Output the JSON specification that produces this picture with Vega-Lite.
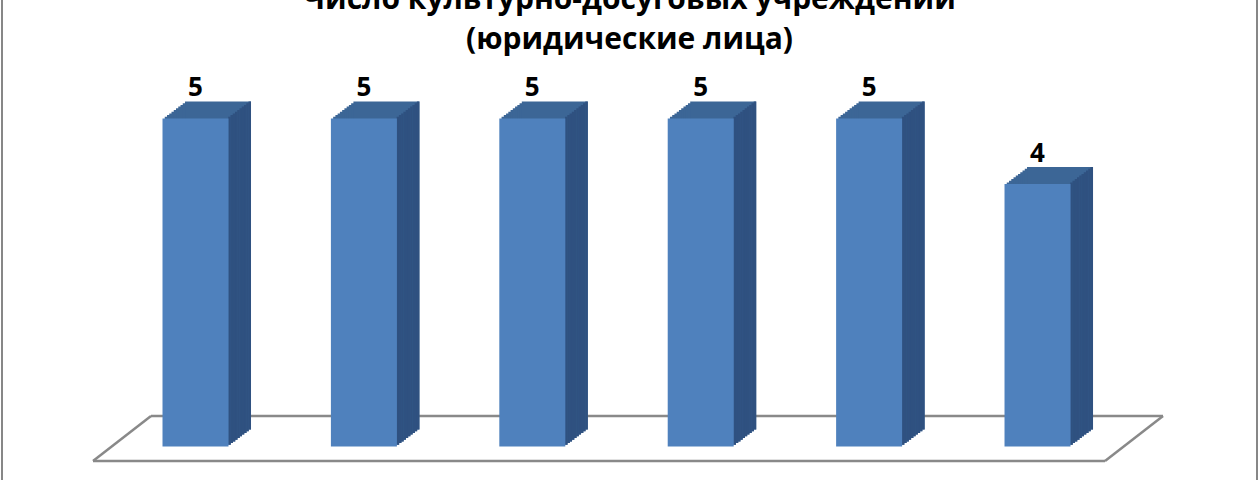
{
  "$schema": "https://vega.github.io/schema/vega-lite/v6.json",
  "autosize": {"type": "none"},
  "padding": {"left": 2, "top": -3, "right": 3, "bottom": 0},
  "width": 1255,
  "height": 490,
  "background": "white",
  "config": {
    "view": {"stroke": "#878787", "strokeWidth": 2},
    "font": "Open Sans"
  },
  "title": {
    "text": ["Число культурно-досуговых учреждений", "(юридические лица)"],
    "font": "Open Sans",
    "fontSize": 30,
    "fontWeight": "bold",
    "color": "#000000",
    "lineHeight": 40,
    "anchor": "middle",
    "offset": -58
  },
  "data": {
    "values": [
      {"year": "2014", "count": 5},
      {"year": "2015", "count": 5},
      {"year": "2016", "count": 5},
      {"year": "2017", "count": 5},
      {"year": "2018", "count": 5},
      {"year": "2019", "count": 4}
    ]
  },
  "encoding": {
    "x": {
      "field": "year",
      "type": "nominal",
      "axis": null,
      "scale": {"paddingInner": 0, "paddingOuter": 0.7262, "align": 0.4469}
    },
    "y": {
      "field": "count",
      "type": "quantitative",
      "axis": null,
      "scale": {"domain": [-0.6174, 6.8521], "nice": false}
    }
  },
  "layer": [
    {
      "transform": [{"filter": "datum.year === '2014'"}],
      "mark": {"type": "rule", "color": "#898989", "strokeWidth": 2.5, "xOffset": -102.5, "x2Offset": 67.5, "yOffset": 14.5, "y2Offset": 14.5},
      "encoding": {"x2": {"datum": "2019", "type": "nominal"}, "y": {"datum": 0, "type": "quantitative"}, "y2": {"datum": 0}}
    },
    {
      "transform": [{"filter": "datum.year === '2014'"}],
      "mark": {"type": "rule", "color": "#898989", "strokeWidth": 2.5, "xOffset": -44.5, "x2Offset": 125.5, "yOffset": -30.5, "y2Offset": -30.5},
      "encoding": {"x2": {"datum": "2019", "type": "nominal"}, "y": {"datum": 0, "type": "quantitative"}, "y2": {"datum": 0}}
    },
    {
      "transform": [{"filter": "datum.year === '2014'"}],
      "mark": {"type": "rule", "color": "#898989", "strokeWidth": 2.5, "xOffset": -102.5, "x2Offset": -44.5, "yOffset": 14.5, "y2Offset": -30.5},
      "encoding": {"x2": {"field": "year"}, "y": {"datum": 0, "type": "quantitative"}, "y2": {"datum": 0}}
    },
    {
      "transform": [{"filter": "datum.year === '2019'"}],
      "mark": {"type": "rule", "color": "#898989", "strokeWidth": 2.5, "xOffset": 67.5, "x2Offset": 125.5, "yOffset": 14.5, "y2Offset": -30.5},
      "encoding": {"x2": {"field": "year"}, "y": {"datum": 0, "type": "quantitative"}, "y2": {"datum": 0}}
    },
    {"mark": {"type": "bar", "width": 66, "color": "#3c6696", "xOffset": 2.25, "yOffset": -1.7, "y2Offset": -1.7}},
    {"mark": {"type": "bar", "width": 66, "color": "#3c6696", "xOffset": 4.5, "yOffset": -3.4, "y2Offset": -3.4}},
    {"mark": {"type": "bar", "width": 66, "color": "#3c6696", "xOffset": 6.75, "yOffset": -5.1, "y2Offset": -5.1}},
    {"mark": {"type": "bar", "width": 66, "color": "#3c6696", "xOffset": 9, "yOffset": -6.8, "y2Offset": -6.8}},
    {"mark": {"type": "bar", "width": 66, "color": "#3c6696", "xOffset": 11.25, "yOffset": -8.5, "y2Offset": -8.5}},
    {"mark": {"type": "bar", "width": 66, "color": "#3c6696", "xOffset": 13.5, "yOffset": -10.2, "y2Offset": -10.2}},
    {"mark": {"type": "bar", "width": 66, "color": "#3c6696", "xOffset": 15.75, "yOffset": -11.9, "y2Offset": -11.9}},
    {"mark": {"type": "bar", "width": 66, "color": "#3c6696", "xOffset": 18, "yOffset": -13.6, "y2Offset": -13.6}},
    {"mark": {"type": "bar", "width": 66, "color": "#3c6696", "xOffset": 20.25, "yOffset": -15.3, "y2Offset": -15.3}},
    {"mark": {"type": "bar", "width": 66, "color": "#3c6696", "xOffset": 22.5, "yOffset": -17, "y2Offset": -17}},
    {"mark": {"type": "bar", "width": 2.5, "color": "#2f5180", "xOffset": 34, "yOffset": -1.7, "y2Offset": -1.7}},
    {"mark": {"type": "bar", "width": 2.5, "color": "#2f5180", "xOffset": 36.25, "yOffset": -3.4, "y2Offset": -3.4}},
    {"mark": {"type": "bar", "width": 2.5, "color": "#2f5180", "xOffset": 38.5, "yOffset": -5.1, "y2Offset": -5.1}},
    {"mark": {"type": "bar", "width": 2.5, "color": "#2f5180", "xOffset": 40.75, "yOffset": -6.8, "y2Offset": -6.8}},
    {"mark": {"type": "bar", "width": 2.5, "color": "#2f5180", "xOffset": 43, "yOffset": -8.5, "y2Offset": -8.5}},
    {"mark": {"type": "bar", "width": 2.5, "color": "#2f5180", "xOffset": 45.25, "yOffset": -10.2, "y2Offset": -10.2}},
    {"mark": {"type": "bar", "width": 2.5, "color": "#2f5180", "xOffset": 47.5, "yOffset": -11.9, "y2Offset": -11.9}},
    {"mark": {"type": "bar", "width": 2.5, "color": "#2f5180", "xOffset": 49.75, "yOffset": -13.6, "y2Offset": -13.6}},
    {"mark": {"type": "bar", "width": 2.5, "color": "#2f5180", "xOffset": 52, "yOffset": -15.3, "y2Offset": -15.3}},
    {"mark": {"type": "bar", "width": 2.5, "color": "#2f5180", "xOffset": 54.25, "yOffset": -17, "y2Offset": -17}},
    {"mark": {"type": "bar", "width": 66, "color": "#4f81bd"}},
    {
      "mark": {"type": "text", "font": "Open Sans", "fontSize": 26, "fontWeight": "bold", "color": "#000000", "align": "center", "baseline": "alphabetic", "yOffset": -22.5},
      "encoding": {"text": {"field": "count", "type": "quantitative"}}
    }
  ]
}
